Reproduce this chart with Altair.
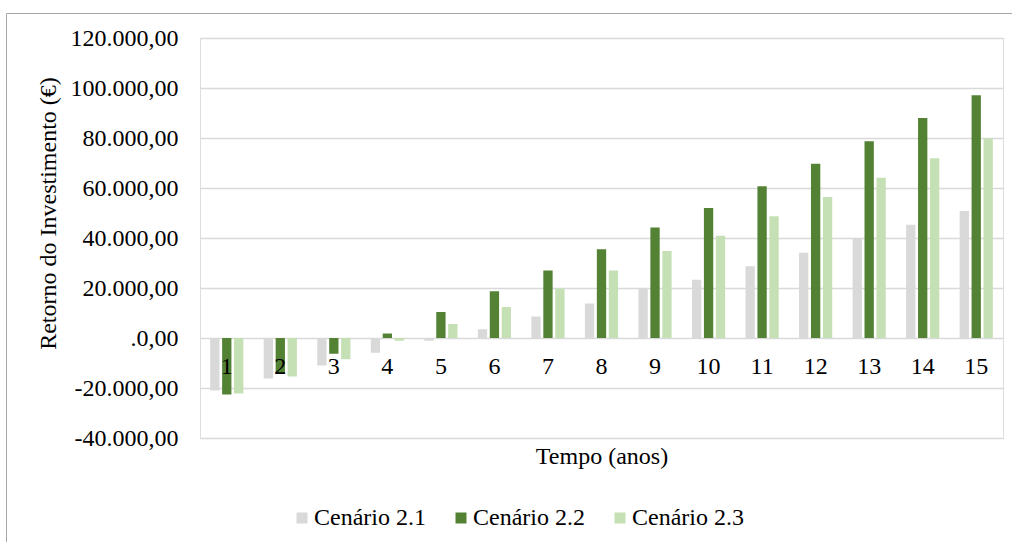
import altair as alt
import pandas as pd

anos = list(range(1, 16))
series = ["Cenário 2.1", "Cenário 2.2", "Cenário 2.3"]
colors = ["#d9d9d9", "#548235", "#c5e0b4"]
cen_21 = [-21000, -16200, -11000, -5900, -1100, 3500, 8600, 13800, 19800, 23300, 28700, 34100, 39900, 45300, 50800]
cen_22 = [-22600, -14400, -6300, 1800, 10400, 18700, 27000, 35500, 44200, 52000, 60700, 69700, 78700, 88000, 97100]
cen_23 = [-22200, -15400, -8500, -1100, 5600, 12400, 19800, 27000, 34800, 40900, 48700, 56400, 64100, 71900, 79900]
tick_values = [-40000, -20000, 0, 20000, 40000, 60000, 80000, 100000, 120000]
tick_labels = ["-40.000,00", "-20.000,00", ".0,00", "20.000,00", "40.000,00",
               "60.000,00", "80.000,00", "100.000,00", "120.000,00"]

rows = []
for s, vals in zip(series, [cen_21, cen_22, cen_23]):
    for a, v in zip(anos, vals):
        rows.append({"Ano": a, "Cenario": s, "Valor": v})
df = pd.DataFrame(rows)
df_labels = pd.DataFrame({"Ano": anos, "lab": [str(a) for a in anos]})

label_expr = "''"
for v, l in zip(tick_values, tick_labels):
    label_expr = f"datum.value == {v} ? '{l}' : ({label_expr})"

FONT = "Liberation Serif"
FS = 24

x_enc = alt.X("Ano:O",
              scale=alt.Scale(paddingInner=0.38, paddingOuter=0.19),
              axis=alt.Axis(labels=False, ticks=False, domain=False, grid=False,
                            title="Tempo (anos)", titlePadding=6,
                            titleFont=FONT, titleFontSize=FS, titleFontWeight="normal",
                            titleColor="#000000"))

bars = alt.Chart(df).mark_bar().encode(
    x=x_enc,
    xOffset=alt.XOffset("Cenario:N", sort=series,
                        scale=alt.Scale(paddingInner=0.22, paddingOuter=0)),
    y=alt.Y("Valor:Q",
            scale=alt.Scale(domain=[-40000, 120000], nice=False),
            axis=alt.Axis(values=tick_values, labelExpr=label_expr, grid=True,
                          gridColor="#d9d9d9", gridWidth=1.3, domain=False, ticks=False,
                          labelPadding=22, labelFont=FONT, labelFontSize=FS,
                          labelColor="#000000",
                          title="Retorno do Investimento (€)", titleFont=FONT,
                          titleFontSize=FS, titleFontWeight="normal", titleColor="#000000",
                          titleX=-140, titleY=175)),
    color=alt.Color("Cenario:N",
                    scale=alt.Scale(domain=series, range=colors),
                    legend=alt.Legend(title=None, orient="none", direction="horizontal",
                                      legendX=90, legendY=468, symbolType="square",
                                      symbolSize=121, symbolStrokeWidth=0,
                                      labelFont=FONT, labelFontSize=FS,
                                      labelColor="#000000", labelOffset=0,
                                      columnPadding=23, padding=0)),
)

labels = alt.Chart(df_labels).mark_text(
    font=FONT, fontSize=FS, color="#000000", baseline="alphabetic", dy=36
).encode(
    x=alt.X("Ano:O"),
    y=alt.datum(0),
    text="lab:N",
)

frame_data = pd.DataFrame({"a": [0]})
top_rule = alt.Chart(frame_data).mark_rule(color="#a6a6a6", strokeWidth=1).encode(
    x=alt.value(-193.5), x2=alt.value(812), y=alt.value(-24.5))
left_rule = alt.Chart(frame_data).mark_rule(color="#a6a6a6", strokeWidth=1).encode(
    x=alt.value(-193.5), y=alt.value(-24.5), y2=alt.value(510))

chart = alt.layer(bars, labels, top_rule, left_rule).properties(
    width=803, height=400,
    autosize=alt.AutoSizeParams(type="none"),
    padding={"left": 200, "top": 38, "right": 9, "bottom": 104},
).configure_view(stroke=None).configure(
    background="white", font=FONT
).configure_legend(
    labelFont=FONT, labelFontSize=FS
).configure_axis(
    labelFont=FONT, titleFont=FONT
)

chart.save("out.html", embed_options={"renderer": "svg", "actions": False})
